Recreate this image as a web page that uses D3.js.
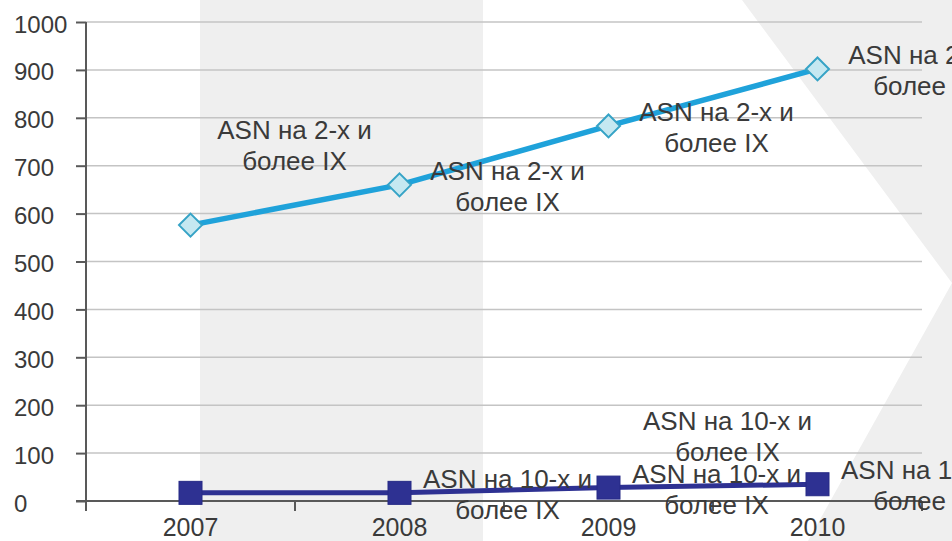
<!DOCTYPE html>
<html>
<head>
<meta charset="utf-8">
<script src="https://cdn.jsdelivr.net/npm/d3@7"></script>
<style>
  html, body { margin: 0; padding: 0; background: #fff; }
  svg { display: block; font-family: "Liberation Sans", Arial, sans-serif; }
</style>
</head>
<body>
<svg id="chart" width="952" height="541"></svg>
<script>
// --- Data ---

const years = ["2007", "2008", "2009", "2010"];
const asn2Values = [576, 660, 783, 902];
const asn10Values = [17, 17, 28, 35];
const asn2Label = ["ASN на 2-х и", "более IX"];
const asn10Label = ["ASN на 10-х и", "более IX"];
const yTicks = [0, 100, 200, 300, 400, 500, 600, 700, 800, 900, 1000];

// labels that were dragged away from their default spot (px)
const asn2Nudge = [[-4, -81], [0, 0], [0, 0], [0, 0]];
const asn10Nudge = [[429, -58], [0, 0], [0, 0], [0, 0]];

// --- Layout ---

const W = 952, H = 541;
const plot = { left: 86, right: 922, top: 22, bottom: 501 };
const TEXT = "#3a3a3a";
const GRID = "#c4c4c4";
const AXIS = "#595959";
const BG_GRAY = "#efefef";

const svg = d3.select("#chart");

const x = d3.scaleBand().domain(years).range([plot.left, plot.right]);
const y = d3.scaleLinear().domain([0, 1000]).range([plot.bottom, plot.top]);
const cx = (d) => x(d) + x.bandwidth() / 2;

// --- Background shapes ---

const bg = svg.append("g");
bg.append("rect").attr("x", 200).attr("y", 0).attr("width", 283).attr("height", H).attr("fill", BG_GRAY);
bg.append("path")
  .attr("d", "M742,0L952,0L952,283Z M952,283L952,541L808,541Z")
  .attr("fill", BG_GRAY);

// --- Grid ---

svg.append("g")
  .selectAll("line")
  .data(yTicks.filter((d) => d > 0))
  .join("line")
  .attr("x1", plot.left)
  .attr("x2", plot.right)
  .attr("y1", (d) => y(d))
  .attr("y2", (d) => y(d))
  .attr("stroke", GRID)
  .attr("stroke-width", 1.5);

// --- Axes ---

const yAxis = svg.append("g").attr("transform", `translate(${plot.left},0)`)
  .call(d3.axisLeft(y).tickValues(yTicks).tickSize(10).tickFormat(d3.format("d")));
yAxis.select(".domain").remove();
yAxis.selectAll(".tick line").attr("stroke", AXIS).attr("stroke-width", 2);
yAxis.selectAll(".tick text")
  .attr("x", 14 - plot.left)
  .attr("text-anchor", "start")
  .attr("dy", "0.42em")
  .attr("fill", TEXT)
  .attr("font-size", 24);

svg.append("line")
  .attr("x1", plot.left).attr("x2", plot.left)
  .attr("y1", plot.top).attr("y2", plot.bottom + 10)
  .attr("stroke", AXIS).attr("stroke-width", 2);

svg.append("line")
  .attr("x1", plot.left - 10).attr("x2", plot.right)
  .attr("y1", plot.bottom).attr("y2", plot.bottom)
  .attr("stroke", AXIS).attr("stroke-width", 2);

// category boundary ticks
const bounds = years.map((d) => x(d)).concat([plot.right]);
svg.append("g")
  .selectAll("line")
  .data(bounds)
  .join("line")
  .attr("x1", (d) => d).attr("x2", (d) => d)
  .attr("y1", plot.bottom).attr("y2", plot.bottom + 10)
  .attr("stroke", AXIS).attr("stroke-width", 2);

svg.append("g")
  .selectAll("text")
  .data(years)
  .join("text")
  .attr("x", cx)
  .attr("y", 536)
  .attr("text-anchor", "middle")
  .attr("fill", TEXT)
  .attr("font-size", 25)
  .text((d) => d);

// --- Series ---

const line = d3.line().x((d) => cx(d.year)).y((d) => y(d.value));
const asn2 = years.map((year, i) => ({ year, value: asn2Values[i] }));
const asn10 = years.map((year, i) => ({ year, value: asn10Values[i] }));

svg.append("path")
  .datum(asn10)
  .attr("d", line)
  .attr("fill", "none")
  .attr("stroke", "#2e3192")
  .attr("stroke-width", 5);

svg.append("path")
  .datum(asn2)
  .attr("d", line)
  .attr("fill", "none")
  .attr("stroke", "#1fa2da")
  .attr("stroke-width", 5.5);

svg.append("g")
  .selectAll("rect")
  .data(asn10)
  .join("rect")
  .attr("x", (d) => cx(d.year) - 11.5)
  .attr("y", (d) => y(d.value) - 11.5)
  .attr("width", 23)
  .attr("height", 23)
  .attr("fill", "#2e3192")
  .attr("stroke", "#262a86")
  .attr("stroke-width", 1);

svg.append("g")
  .selectAll("path")
  .data(asn2)
  .join("path")
  .attr("transform", (d) => `translate(${cx(d.year)},${y(d.value)})`)
  .attr("d", "M0,-11.5L11.5,0L0,11.5L-11.5,0Z")
  .attr("fill", "#c5e8f1")
  .attr("stroke", "#36a3c6")
  .attr("stroke-width", 2);

// --- Data labels ---

function drawLabels(data, lines, nudge) {
  const g = svg.append("g");
  data.forEach((d, i) => {
    const lx = cx(d.year) + 108 + nudge[i][0];
    const ly = y(d.value) + nudge[i][1];
    g.append("text")
      .attr("x", lx)
      .attr("y", ly - 5)
      .attr("text-anchor", "middle")
      .attr("fill", TEXT)
      .attr("font-size", 26)
      .selectAll("tspan")
      .data(lines)
      .join("tspan")
      .attr("x", lx)
      .attr("dy", (t, j) => (j === 0 ? 0 : 31))
      .text((t) => t);
  });
}

drawLabels(asn2, asn2Label, asn2Nudge);
drawLabels(asn10, asn10Label, asn10Nudge);
</script>
</body>
</html>
